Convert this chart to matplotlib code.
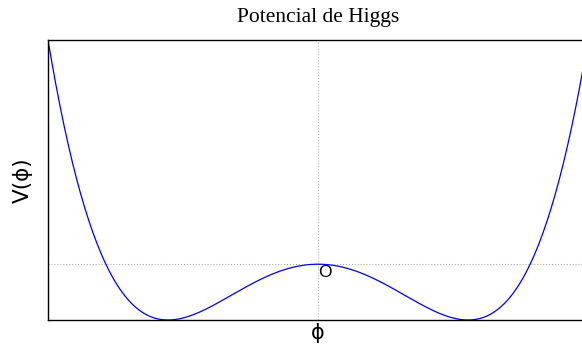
import numpy as np
import matplotlib
matplotlib.use("Agg")
import matplotlib.pyplot as plt

# potencial de Higgs V(phi) = lam * (phi^2 - v^2)^2
vev = 1.0
lam = 1.0
phi_min, phi_max = -1.8, 1.8
n_points = 400

phi = np.linspace(phi_min, phi_max, n_points)
V = lam * (phi**2 - vev**2)**2

sans = ["Liberation Sans", "DejaVu Sans"]

fig = plt.figure(figsize=(5.82, 3.51), dpi=100)
ax = fig.add_axes([48/582, 31/351, 540/582, 280/351])

ax.plot(phi, V, color="#0000ff", lw=0.9)
ax.set_xlim(phi_min, phi_max)
ax.set_ylim(0, lam * (phi_min**2 - vev**2)**2)

# solo lineas guia en phi = 0 y V(0)
ax.set_xticks([0])
ax.set_yticks([lam * vev**4])
ax.tick_params(length=0, labelbottom=False, labelleft=False)
ax.grid(True, color="#b0b0b0", linestyle=":", linewidth=0.8)

ax.text(0.0, 0.86, "O", fontsize=12.5, ha="left", va="center", family=sans)

ax.set_xlabel("\u03d5", fontsize=15, labelpad=2, family="DejaVu Sans")
ax.set_ylabel("V(\u03d5)", fontsize=15.5, labelpad=11, family="DejaVu Sans")
ax.set_title("Potencial de Higgs", family="Liberation Serif", fontsize=15.5, pad=13)

for s in ax.spines.values():
    s.set_linewidth(1.0)

fig.savefig("out.png", dpi=100)
